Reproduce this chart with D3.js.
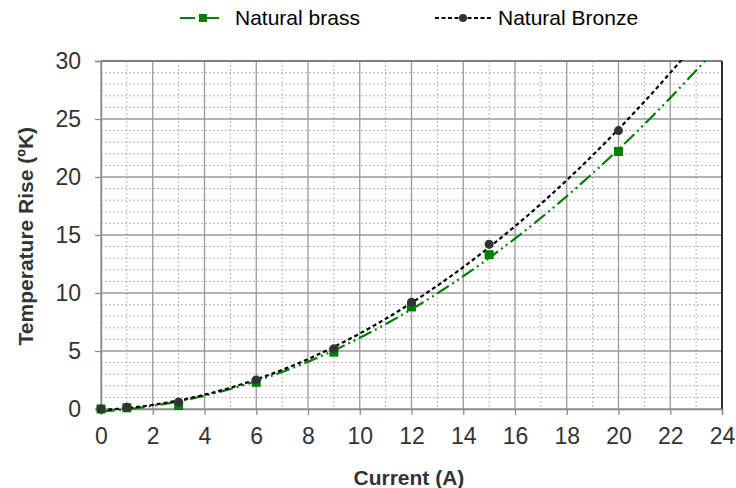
<!DOCTYPE html>
<html>
<head>
<meta charset="utf-8">
<script src="https://cdn.jsdelivr.net/npm/d3@7"></script>
<style>
body { margin: 0; background: #fff; }
svg { font-family: "Liberation Sans", Arial, sans-serif; }
</style>
</head>
<body>
<div id="chart"></div>
<script>
var current = [0, 1, 3, 6, 9, 12, 15, 20];
var brass = [0, 0.1, 0.3, 2.3, 4.9, 8.8, 13.3, 22.2];
var bronze = [0, 0.15, 0.6, 2.5, 5.2, 9.2, 14.2, 24.0];
var xTicks = d3.range(0, 25, 2);
var yTicks = d3.range(0, 31, 5);

var width = 736, height = 488;
var margin = {t: 61, r: 14, b: 79, l: 101};
var pw = width - margin.l - margin.r;
var ph = height - margin.t - margin.b;

var svg = d3.select("#chart").append("svg")
  .attr("width", width).attr("height", height);

var x = d3.scaleLinear().domain([0, 24]).range([0, pw]);
var y = d3.scaleLinear().domain([0, 30]).range([ph, 0]);

var g = svg.append("g").attr("transform", "translate(" + margin.l + "," + margin.t + ")");

// minor grid (dashed)
g.selectAll(".vminor").data(d3.range(1, 24, 2)).enter().append("line")
  .attr("x1", d => x(d)).attr("x2", d => x(d)).attr("y1", 0).attr("y2", ph)
  .attr("stroke", "#b4b4b4").attr("stroke-dasharray", "2,2");
g.selectAll(".hminor").data(d3.range(1, 30).filter(d => d % 5)).enter().append("line")
  .attr("y1", d => y(d)).attr("y2", d => y(d)).attr("x1", 0).attr("x2", pw)
  .attr("stroke", "#b4b4b4").attr("stroke-dasharray", "2,2");
// major grid
g.selectAll(".vmajor").data(xTicks).enter().append("line")
  .attr("x1", d => x(d)).attr("x2", d => x(d)).attr("y1", 0).attr("y2", ph)
  .attr("stroke", "#9a9a9a").attr("stroke-width", 1.3);
g.selectAll(".hmajor").data(yTicks).enter().append("line")
  .attr("y1", d => y(d)).attr("y2", d => y(d)).attr("x1", 0).attr("x2", pw)
  .attr("stroke", "#9a9a9a").attr("stroke-width", 1.3);
// plot border top/right
g.append("line").attr("x1", 0).attr("x2", pw).attr("y1", 0).attr("y2", 0)
  .attr("stroke", "#707070").attr("stroke-width", 1.5);
g.append("line").attr("x1", pw).attr("x2", pw).attr("y1", 0).attr("y2", ph)
  .attr("stroke", "#000").attr("stroke-width", 1.5);

// axes
var xAxis = g.append("g").attr("transform", "translate(0," + ph + ")")
  .call(d3.axisBottom(x).tickValues(xTicks).tickSize(6).tickPadding(13));
var yAxis = g.append("g")
  .call(d3.axisLeft(y).tickValues(yTicks).tickSize(6).tickPadding(14));
[xAxis, yAxis].forEach(function(a) {
  a.select(".domain").attr("stroke", "#8c8c8c").attr("stroke-width", 1.5);
  a.selectAll(".tick line").attr("stroke", "#8c8c8c").attr("stroke-width", 1.3);
  a.selectAll("text").attr("font-size", 23).attr("fill", "#333")
    .attr("font-family", "'Liberation Sans', Arial, sans-serif");
});

// quadratic trend fit (least squares) from data
function fit2(xs, ys) {
  var s = [0, 0, 0, 0, 0], t = [0, 0, 0];
  xs.forEach(function(xv, i) {
    for (var k = 0; k < 5; k++) s[k] += Math.pow(xv, k);
    for (var k2 = 0; k2 < 3; k2++) t[k2] += ys[i] * Math.pow(xv, k2);
  });
  var M = [[s[0], s[1], s[2], t[0]], [s[1], s[2], s[3], t[1]], [s[2], s[3], s[4], t[2]]];
  for (var i = 0; i < 3; i++) {
    for (var j = i + 1; j < 3; j++) {
      var f = M[j][i] / M[i][i];
      for (var k = i; k < 4; k++) M[j][k] -= f * M[i][k];
    }
  }
  var c = [0, 0, 0];
  for (var i2 = 2; i2 >= 0; i2--) {
    var v = M[i2][3];
    for (var k3 = i2 + 1; k3 < 3; k3++) v -= M[i2][k3] * c[k3];
    c[i2] = v / M[i2][i2];
  }
  return function(xv) { return c[0] + c[1] * xv + c[2] * xv * xv; };
}

svg.append("defs").append("clipPath").attr("id", "clip")
  .append("rect").attr("width", pw).attr("height", ph + 6).attr("y", -1);

var series = [
  {name: "Natural brass", vals: brass, color: "#008000", dash: "14,4,2,4,2,4", marker: "square"},
  {name: "Natural Bronze", vals: bronze, color: "#000", dash: "4,3", marker: "circle", mfill: "#333"}
];

var line = d3.line().x(d => x(d[0])).y(d => y(d[1]));
series.forEach(function(s) {
  var f = fit2(current, s.vals);
  var pts = d3.range(0, 24.01, 0.1).map(v => [v, f(v)]);
  g.append("path").attr("clip-path", "url(#clip)").datum(pts).attr("d", line)
    .attr("fill", "none").attr("stroke", s.color).attr("stroke-width", 2.2)
    .attr("stroke-dasharray", s.dash);
});
series.forEach(function(s) {
  var pts = current.map((c, i) => [c, s.vals[i]]);
  if (s.marker === "square") {
    g.selectAll(null).data(pts).enter().append("rect")
      .attr("x", d => x(d[0]) - 4.5).attr("y", d => y(d[1]) - 4.5)
      .attr("width", 9).attr("height", 9).attr("fill", s.color);
  } else {
    g.selectAll(null).data(pts).enter().append("circle")
      .attr("cx", d => x(d[0])).attr("cy", d => y(d[1])).attr("r", 4.5)
      .attr("fill", s.mfill);
  }
});

// legend
var leg = svg.append("g");
var lg1 = leg.append("g");
lg1.append("line").attr("x1", 180).attr("x2", 228).attr("y1", 18).attr("y2", 18)
  .attr("stroke", "#008000").attr("stroke-width", 2).attr("stroke-dasharray", "15,9");
lg1.append("rect").attr("x", 199).attr("y", 14).attr("width", 8).attr("height", 8).attr("fill", "#008000");
lg1.append("text").attr("x", 235).attr("y", 25).attr("font-size", 21).attr("fill", "#000").text("Natural brass");
var lg2 = leg.append("g");
lg2.append("line").attr("x1", 435).attr("x2", 493).attr("y1", 18).attr("y2", 18)
  .attr("stroke", "#000").attr("stroke-width", 2).attr("stroke-dasharray", "4,2.5");
lg2.append("circle").attr("cx", 463).attr("cy", 18).attr("r", 4).attr("fill", "#333");
lg2.append("text").attr("x", 498).attr("y", 25).attr("font-size", 21).attr("fill", "#000").text("Natural Bronze");

// axis titles
svg.append("text").attr("x", margin.l + x(11.9)).attr("y", 485).attr("text-anchor", "middle")
  .attr("font-size", 21).attr("font-weight", "bold").attr("fill", "#333").text("Current (A)");
svg.append("text").attr("transform", "translate(33," + (margin.t + y(14.9)) + ") rotate(-90)")
  .attr("text-anchor", "middle").attr("font-size", 21).attr("font-weight", "bold")
  .attr("fill", "#333").text("Temperature Rise (ºK)");
</script>
</body>
</html>
